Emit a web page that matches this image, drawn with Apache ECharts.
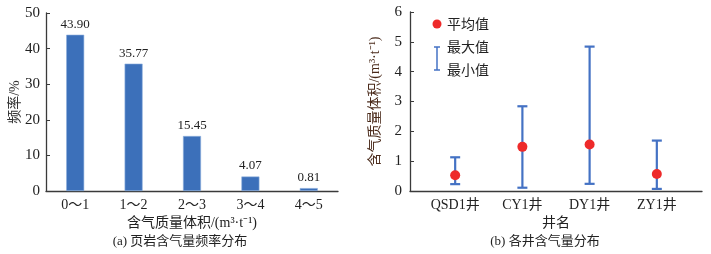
<!DOCTYPE html>
<html>
<head>
<meta charset="utf-8">
<script src="https://cdn.jsdelivr.net/npm/echarts@6/dist/echarts.min.js"></script>
<style>
	html, body { margin: 0; padding: 0; background: #fff; }
	#chart { width: 711px; height: 254px; }
</style>
</head>
<body>
<div id="chart"></div>
<script>
	// (a) 频率分布
	var freqCategories = ['0～1', '1～2', '2～3', '3～4', '4～5'];
	var freqValues = [43.90, 35.77, 15.45, 4.07, 0.81];
	// (b) 各井含气量
	var wellNames = ['QSD1井', 'CY1井', 'DY1井', 'ZY1井'];
	var wellMean = [0.53, 1.48, 1.56, 0.57];
	var wellMax = [1.13, 2.84, 4.84, 1.69];
	var wellMin = [0.23, 0.11, 0.24, 0.07];

	var serif = "'Liberation Serif', 'Noto Sans CJK SC', serif";
	var axisColor = '#3a3a3a';
	var barColor = '#3c70ba';
	var errColor = '#4472c4';

	var chart = echarts.init(document.getElementById('chart'));

	var errData = wellNames.map(function (n, i) {
		return [i + 1, wellMin[i], wellMax[i]];
	});
	var meanData = wellNames.map(function (n, i) {
		return [i + 1, wellMean[i]];
	});

	var option = {
		animation: false,
		textStyle: { fontFamily: serif },
		grid: [
			{ left: 46, top: 13, right: 373, bottom: 63 },
			{ left: 410, top: 12, right: 9, bottom: 63 }
		],
		xAxis: [{
			gridIndex: 0,
			type: 'category',
			data: freqCategories,
			name: '含气质量体积/(m³·t⁻¹)',
			nameLocation: 'middle',
			nameGap: 25,
			nameMoveOverlap: false,
			nameTextStyle: { fontSize: 14, color: '#222', fontFamily: serif },
			axisLine: { lineStyle: { color: axisColor, width: 1.3 } },
			axisTick: { inside: true, length: 4, lineStyle: { color: axisColor } },
			axisLabel: { fontSize: 14, color: '#222', margin: 7 }
		}, {
			gridIndex: 1,
			type: 'value',
			min: 0.328,
			max: 4.672,
			name: '井名',
			nameLocation: 'middle',
			nameGap: 25,
			nameMoveOverlap: false,
			nameTextStyle: { fontSize: 14, color: '#222', fontFamily: serif },
			axisLine: { lineStyle: { color: axisColor, width: 1.3 } },
			axisTick: { show: false },
			splitLine: { show: false },
			axisLabel: {
				fontSize: 14, color: '#222', margin: 7,
				customValues: [1, 2, 3, 4],
				formatter: function (v) { return wellNames[Math.round(v) - 1] || ''; }
			}
		}],
		yAxis: [{
			gridIndex: 0,
			type: 'value',
			min: 0, max: 50, interval: 10,
			name: '频率/%',
			nameLocation: 'middle',
			nameGap: 24,
			nameMoveOverlap: false,
			nameTextStyle: { fontSize: 14, color: '#333', fontFamily: serif },
			axisLine: { show: true, lineStyle: { color: axisColor, width: 1.3 } },
			axisTick: { show: true, inside: true, length: 4, lineStyle: { color: axisColor } },
			splitLine: { show: false },
			axisLabel: { fontSize: 15, color: '#222', margin: 6 }
		}, {
			gridIndex: 1,
			type: 'value',
			min: 0, max: 6, interval: 1,
			name: '含气质量体积/(m³·t⁻¹)',
			nameLocation: 'middle',
			nameGap: 28,
			nameMoveOverlap: false,
			nameTextStyle: { fontSize: 14, color: '#4a2a1a', fontFamily: serif },
			axisLine: { show: true, lineStyle: { color: axisColor, width: 1.3 } },
			axisTick: { show: true, inside: true, length: 4, lineStyle: { color: axisColor } },
			splitLine: { show: false },
			axisLabel: { fontSize: 15, color: '#222', margin: 8 }
		}],
		series: [{
			type: 'bar',
			xAxisIndex: 0,
			yAxisIndex: 0,
			data: freqValues,
			barWidth: 18,
			itemStyle: { color: barColor, borderColor: '#8fb0de', borderWidth: 0.6 },
			label: {
				show: true,
				position: 'top',
				distance: 4,
				fontSize: 13,
				color: '#222',
				formatter: function (p) { return p.value.toFixed(2); }
			}
		}, {
			type: 'custom',
			xAxisIndex: 1,
			yAxisIndex: 1,
			data: errData,
			renderItem: function (params, api) {
				var x = api.value(0);
				var lo = api.coord([x, api.value(1)]);
				var hi = api.coord([x, api.value(2)]);
				var hw = 5;
				var st = { stroke: errColor, lineWidth: 2.2 };
				return {
					type: 'group',
					children: [
						{ type: 'line', shape: { x1: lo[0], y1: lo[1], x2: hi[0], y2: hi[1] }, style: st },
						{ type: 'line', shape: { x1: lo[0] - hw, y1: lo[1], x2: lo[0] + hw, y2: lo[1] }, style: st },
						{ type: 'line', shape: { x1: hi[0] - hw, y1: hi[1], x2: hi[0] + hw, y2: hi[1] }, style: st }
					]
				};
			},
			z: 2
		}, {
			type: 'scatter',
			xAxisIndex: 1,
			yAxisIndex: 1,
			data: meanData,
			symbolSize: 10,
			itemStyle: { color: '#ee2a2a', opacity: 1 },
			z: 3
		}],
		graphic: [
			// legend
			{ type: 'circle', shape: { cx: 437, cy: 24, r: 4.5 }, style: { fill: '#ee2a2a' } },
			{ type: 'text', x: 447, y: 24, style: { text: '平均值', font: "14px 'Noto Sans CJK SC'", fill: '#222', textVerticalAlign: 'middle' } },
			{ type: 'line', shape: { x1: 437, y1: 47, x2: 437, y2: 70 }, style: { stroke: errColor, lineWidth: 1.5 } },
			{ type: 'line', shape: { x1: 434, y1: 47, x2: 440, y2: 47 }, style: { stroke: errColor, lineWidth: 1.5 } },
			{ type: 'line', shape: { x1: 434, y1: 70, x2: 440, y2: 70 }, style: { stroke: errColor, lineWidth: 1.5 } },
			{ type: 'text', x: 447, y: 47, style: { text: '最大值', font: "14px 'Noto Sans CJK SC'", fill: '#222', textVerticalAlign: 'middle' } },
			{ type: 'text', x: 447, y: 70, style: { text: '最小值', font: "14px 'Noto Sans CJK SC'", fill: '#222', textVerticalAlign: 'middle' } },
			// captions
			{ type: 'text', x: 180, y: 242, style: { text: '(a) 页岩含气量频率分布', font: "13px 'Liberation Serif', 'Noto Sans CJK SC'", fill: '#222', textAlign: 'center', textVerticalAlign: 'middle' } },
			{ type: 'text', x: 545, y: 242, style: { text: '(b) 各井含气量分布', font: "13px 'Liberation Serif', 'Noto Sans CJK SC'", fill: '#222', textAlign: 'center', textVerticalAlign: 'middle' } }
		]
	};
	chart.setOption(option);
</script>
</body>
</html>
